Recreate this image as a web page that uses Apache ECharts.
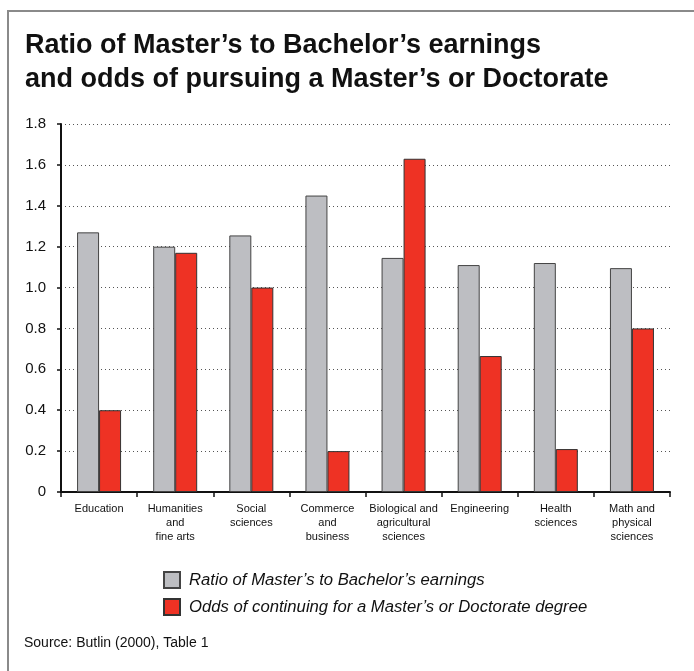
<!DOCTYPE html>
<html>
<head>
<meta charset="utf-8">
<script src="https://cdn.jsdelivr.net/npm/echarts@6/dist/echarts.min.js"></script>
<style>
  html, body { margin: 0; padding: 0; background: #fff; }
  #chart { width: 694px; height: 671px; }
</style>
</head>
<body>
<div id="chart"></div>
<script>
// Fields of study (line breaks as printed under each bar pair)
const categories = [
  'Education',
  'Humanities\nand\nfine arts',
  'Social\nsciences',
  'Commerce\nand\nbusiness',
  'Biological and\nagricultural\nsciences',
  'Engineering',
  'Health\nsciences',
  'Math and\nphysical\nsciences'
];

// Ratio of Master's to Bachelor's earnings
const earningsRatio = [1.27, 1.20, 1.255, 1.45, 1.145, 1.11, 1.12, 1.095];

// Odds of continuing for a Master's or Doctorate degree
const continuingOdds = [0.40, 1.17, 1.00, 0.20, 1.63, 0.665, 0.21, 0.80];

const seriesNames = [
  'Ratio of Master\u2019s to Bachelor\u2019s earnings',
  'Odds of continuing for a Master\u2019s or Doctorate degree'
];

const titleLines = [
  'Ratio of Master\u2019s to Bachelor\u2019s earnings',
  'and odds of pursuing a Master\u2019s or Doctorate'
];

const sourceNote = 'Source: Butlin (2000), Table 1';

const chart = echarts.init(document.getElementById('chart'), null, { renderer: 'canvas' });

chart.setOption({
  backgroundColor: '#ffffff',
  animation: false,
  textStyle: { fontFamily: 'Liberation Sans, Arial, sans-serif' },
  title: {
    text: titleLines.join('\n'),
    left: 20,
    top: 24,
    textStyle: {
      fontFamily: 'Liberation Sans, Arial, sans-serif',
      fontSize: 27,
      fontWeight: 'bold',
      color: '#111',
      lineHeight: 34
    }
  },
  graphic: [
    // frame: top rule and left rule
    { type: 'line', shape: { x1: 7, y1: 11, x2: 694, y2: 11 }, style: { stroke: '#8a8a8a', lineWidth: 2 } },
    { type: 'line', shape: { x1: 8, y1: 11, x2: 8, y2: 671 }, style: { stroke: '#8a8a8a', lineWidth: 2 } },
    {
      type: 'text', left: 24, top: 636,
      style: { text: sourceNote, fontSize: 14, fill: '#111', fontFamily: 'Liberation Sans, Arial, sans-serif' }
    }
  ],
  legend: {
    orient: 'vertical',
    left: 158,
    top: 566,
    itemWidth: 16,
    itemHeight: 16,
    itemGap: 9,
    icon: 'rect',
    textStyle: { fontSize: 16.7, fontStyle: 'italic', color: '#111', padding: [0, 0, 0, 4] },
    data: seriesNames
  },
  grid: { left: 61, right: 24, top: 124, bottom: 179 },
  xAxis: {
    type: 'category',
    data: categories,
    axisLine: { lineStyle: { color: '#111', width: 2 } },
    axisTick: { show: true, length: 5, lineStyle: { color: '#111', width: 1.5 } },
    axisLabel: { interval: 0, fontSize: 11, color: '#111', lineHeight: 14, margin: 10 }
  },
  yAxis: {
    type: 'value',
    min: 0,
    max: 1.8,
    interval: 0.2,
    axisLine: { show: true, lineStyle: { color: '#111', width: 2 } },
    axisTick: { show: true, length: 4, lineStyle: { color: '#111', width: 1.5 } },
    axisLabel: {
      fontSize: 15, color: '#111', margin: 15,
      formatter: v => (v === 0 ? '0' : v.toFixed(1))
    },
    splitLine: { show: true, lineStyle: { color: '#555', width: 1, type: [1, 3] } }
  },
  series: [
    {
      name: seriesNames[0],
      type: 'bar',
      data: earningsRatio,
      barWidth: 22,
      barGap: '0%',
      itemStyle: { color: '#bdbec2', borderColor: '#444', borderWidth: 1 }
    },
    {
      name: seriesNames[1],
      type: 'bar',
      data: continuingOdds,
      barWidth: 22,
      itemStyle: { color: '#ee3224', borderColor: '#333', borderWidth: 1 }
    }
  ]
});
</script>
</body>
</html>
